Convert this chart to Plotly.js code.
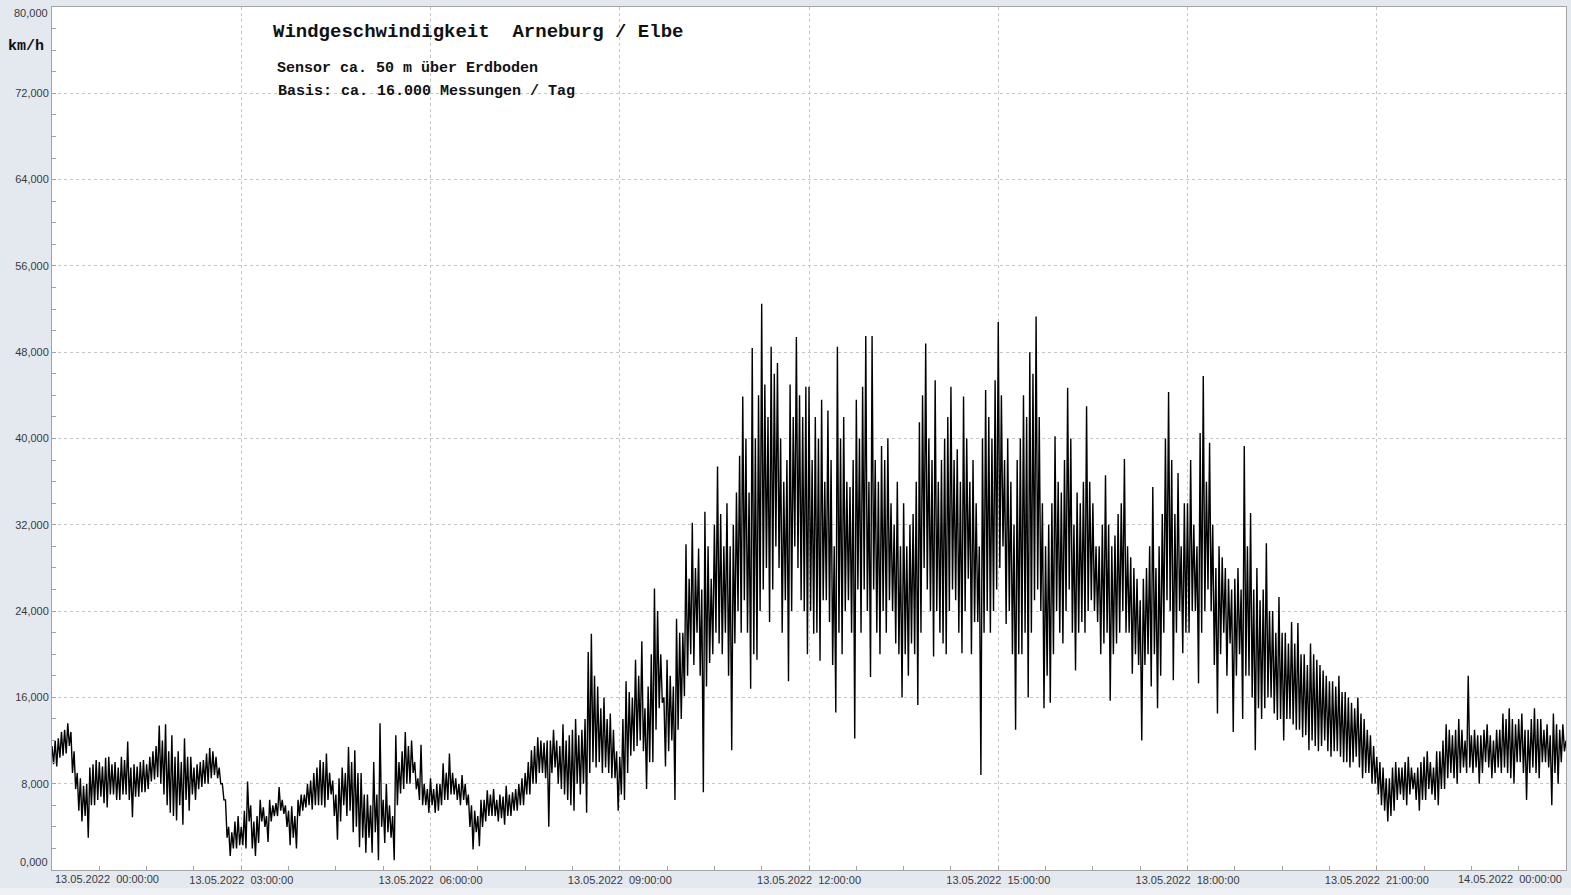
<!DOCTYPE html>
<html>
<head>
<meta charset="utf-8">
<script src="https://cdn.plot.ly/plotly-3.0.1.min.js"></script>
<style>
  html, body { margin: 0; padding: 0; background: #e4e8ef; }
  #chart { width: 1571px; height: 895px; }
</style>
</head>
<body>
<div id="chart"></div>
<script>
// Wind speed (km/h):
// for every 3-minute slot, the top (hi) and bottom (lo) of the drawn band.
const slotMinutes = 3;
const hi00 = [11.5, 12.0, 12.2, 12.8, 13.0, 13.6, 12.8, 11.0, 9.0, 8.5, 7.8, 8.0, 9.5, 9.8, 10.2, 10.0, 9.6, 10.4, 10.5, 9.8];
const lo00 = [9.8, 9.6, 10.4, 10.6, 10.8, 11.5, 9.0, 7.5, 5.5, 4.5, 5.0, 3.0, 6.0, 6.0, 6.5, 6.8, 6.2, 5.8, 7.0, 7.0];
const hi01 = [10.0, 9.5, 10.5, 10.2, 11.9, 9.5, 9.8, 9.6, 10.0, 10.2, 9.8, 10.5, 11.0, 11.5, 13.4, 12.0, 13.5, 11.0, 12.5, 10.5];
const lo01 = [6.5, 6.5, 7.0, 7.0, 6.5, 4.9, 6.8, 6.8, 7.2, 7.2, 7.5, 8.2, 8.4, 8.6, 8.0, 7.0, 6.0, 5.3, 5.0, 4.6];
const hi02 = [11.0, 10.0, 12.2, 10.5, 10.5, 9.5, 9.8, 10.0, 10.2, 10.8, 11.3, 11.0, 10.5, 9.5, 8.0, 6.5, 4.0, 3.5, 4.5, 5.0];
const lo02 = [6.0, 4.2, 6.5, 5.5, 7.0, 6.5, 7.5, 7.7, 8.0, 8.0, 8.5, 8.8, 8.5, 8.0, 6.5, 3.0, 1.3, 2.0, 2.0, 2.3];
const hi03 = [4.0, 5.5, 8.2, 6.0, 4.5, 5.0, 6.5, 5.8, 5.0, 6.5, 6.0, 6.2, 7.7, 6.5, 6.0, 5.5, 5.9, 5.0, 6.5, 7.0];
const lo03 = [2.3, 2.0, 4.5, 2.0, 1.3, 2.5, 4.5, 4.0, 2.6, 4.5, 5.0, 5.0, 5.5, 5.2, 4.0, 2.3, 3.0, 2.0, 5.0, 5.5];
const hi04 = [7.0, 8.0, 8.3, 9.0, 9.5, 10.2, 10.0, 10.8, 9.0, 8.3, 7.0, 8.5, 9.5, 9.0, 11.4, 10.0, 11.1, 9.0, 9.0, 7.0];
const lo04 = [5.8, 6.0, 5.6, 6.0, 6.0, 6.0, 5.8, 6.5, 7.0, 5.0, 2.8, 4.5, 6.0, 5.0, 5.5, 3.5, 4.0, 2.1, 3.0, 1.6];
const hi05 = [7.0, 6.0, 10.0, 7.0, 13.6, 6.5, 8.0, 6.0, 5.0, 12.5, 10.0, 11.0, 12.8, 11.5, 12.0, 10.0, 8.5, 11.6, 8.0, 7.5];
const lo05 = [3.0, 1.6, 3.5, 0.9, 4.0, 2.5, 3.5, 3.0, 0.9, 6.0, 7.1, 7.5, 8.0, 8.0, 9.0, 7.5, 6.5, 6.0, 6.0, 5.3];
const hi06 = [8.5, 7.5, 8.0, 8.0, 9.9, 9.0, 10.8, 9.0, 8.5, 8.0, 8.8, 8.0, 7.0, 6.0, 5.5, 5.0, 6.5, 6.5, 7.4, 7.0];
const lo06 = [6.0, 5.3, 5.5, 6.0, 6.5, 6.5, 7.0, 7.0, 6.5, 6.0, 6.5, 6.0, 4.0, 1.9, 3.5, 2.2, 4.0, 4.5, 5.0, 5.0];
const hi07 = [7.5, 6.5, 7.0, 6.8, 7.8, 7.0, 7.2, 7.5, 8.0, 8.5, 9.0, 10.0, 11.1, 11.5, 12.3, 12.0, 11.8, 12.0, 12.0, 13.0];
const lo07 = [5.0, 4.5, 4.8, 4.2, 5.0, 5.0, 5.5, 5.5, 6.0, 6.0, 7.0, 7.0, 8.0, 8.0, 9.0, 9.0, 8.5, 4.0, 9.0, 9.5];
const hi08 = [12.0, 11.5, 13.5, 12.0, 12.5, 13.0, 14.0, 12.5, 13.0, 14.0, 20.2, 21.9, 18.0, 17.0, 15.0, 16.0, 14.0, 14.5, 13.0, 11.0];
const lo08 = [8.0, 7.5, 7.0, 6.5, 6.0, 5.5, 8.0, 7.0, 8.0, 5.3, 9.0, 10.0, 9.5, 10.0, 9.0, 9.5, 9.0, 8.5, 8.5, 5.5];
const hi09 = [10.5, 14.0, 17.5, 16.5, 16.0, 19.5, 18.0, 21.2, 15.0, 17.0, 20.0, 26.1, 24.0, 20.0, 16.0, 19.5, 18.0, 17.0, 23.3, 22.0];
const lo09 = [7.0, 6.5, 9.0, 10.6, 11.0, 11.5, 12.0, 11.0, 7.5, 10.0, 10.0, 13.0, 15.0, 15.5, 9.6, 11.0, 12.0, 6.5, 13.0, 14.0];
const hi10 = [22.0, 30.2, 27.0, 32.2, 28.0, 29.8, 26.0, 33.2, 30.0, 27.0, 32.0, 37.4, 33.0, 30.0, 34.0, 30.0, 32.0, 35.0, 38.4, 43.9];
const lo10 = [16.1, 18.0, 20.0, 19.0, 22.0, 18.0, 7.2, 17.0, 19.2, 20.0, 22.0, 21.0, 20.0, 22.0, 18.0, 11.1, 21.0, 24.0, 22.0, 25.0];
const hi11 = [40.0, 35.0, 48.4, 40.0, 44.0, 52.5, 45.0, 42.0, 48.5, 46.0, 47.0, 40.0, 36.0, 38.0, 45.0, 42.0, 49.4, 44.0, 42.0, 44.8];
const lo11 = [22.0, 16.8, 20.0, 19.5, 24.0, 26.0, 28.0, 23.0, 26.0, 30.0, 28.0, 22.0, 25.0, 17.5, 24.0, 30.0, 28.0, 25.0, 24.0, 20.0];
const hi12 = [44.8, 38.0, 42.0, 40.0, 43.6, 36.0, 42.6, 38.0, 30.0, 48.5, 40.0, 42.0, 36.0, 35.5, 38.0, 43.6, 40.0, 44.8, 49.5, 36.0];
const lo12 = [24.0, 21.9, 22.0, 19.4, 25.0, 25.0, 23.0, 19.0, 14.6, 22.0, 20.0, 24.0, 25.0, 22.0, 12.2, 26.0, 22.0, 26.0, 24.0, 17.9];
const hi13 = [49.5, 38.0, 36.0, 39.3, 38.0, 40.0, 34.0, 32.0, 36.0, 30.0, 34.0, 30.0, 32.0, 33.0, 36.0, 41.5, 44.0, 48.8, 40.0, 38.0];
const lo13 = [26.0, 22.0, 20.0, 24.0, 22.0, 25.0, 24.0, 21.0, 20.0, 16.0, 20.0, 18.0, 21.0, 20.0, 15.3, 22.0, 28.0, 26.0, 24.0, 19.8];
const hi14 = [45.4, 36.0, 38.0, 40.0, 42.0, 44.8, 38.0, 39.0, 36.0, 43.9, 40.0, 36.0, 38.0, 34.0, 30.0, 40.0, 44.5, 42.0, 40.0, 45.4];
const lo14 = [24.0, 22.0, 21.0, 20.0, 24.0, 26.0, 25.0, 22.0, 20.1, 24.0, 27.0, 20.0, 23.0, 23.0, 8.8, 22.0, 24.0, 22.0, 24.0, 26.0];
const hi15 = [50.8, 44.0, 38.0, 40.0, 36.0, 32.0, 38.0, 40.0, 44.0, 42.0, 48.0, 46.0, 51.3, 42.0, 34.0, 30.0, 32.0, 34.0, 40.2, 36.0];
const lo15 = [28.0, 30.0, 22.8, 24.0, 20.0, 13.0, 20.0, 20.0, 22.0, 16.0, 22.0, 25.0, 26.0, 24.0, 15.0, 18.0, 15.5, 20.0, 24.0, 22.0];
const hi16 = [35.0, 38.0, 44.7, 40.0, 32.0, 35.0, 34.0, 36.0, 43.0, 36.0, 34.0, 30.0, 30.0, 32.0, 36.6, 32.0, 30.0, 31.0, 33.0, 34.0];
const lo16 = [21.0, 24.0, 26.0, 22.0, 18.5, 22.0, 23.0, 22.0, 24.0, 25.0, 24.0, 23.0, 20.0, 21.0, 22.0, 15.7, 20.0, 21.0, 22.0, 24.0];
const hi17 = [38.1, 30.0, 29.0, 28.0, 27.0, 25.0, 27.0, 28.0, 30.0, 35.5, 28.0, 30.0, 33.0, 40.0, 44.3, 38.0, 33.0, 36.8, 30.0, 34.0];
const lo17 = [22.0, 22.0, 18.2, 20.0, 19.0, 12.0, 19.0, 20.0, 17.0, 20.0, 15.0, 18.0, 22.0, 25.0, 24.0, 17.6, 22.0, 24.0, 20.1, 22.0];
const hi18 = [34.0, 38.0, 32.0, 30.0, 40.5, 45.8, 36.0, 39.6, 32.0, 28.0, 30.0, 29.0, 28.0, 27.0, 26.0, 27.0, 28.0, 26.0, 39.3, 30.0];
const lo18 = [22.0, 24.0, 24.0, 17.3, 22.0, 24.0, 26.0, 24.0, 19.0, 14.5, 20.0, 22.0, 18.0, 21.0, 12.8, 18.0, 20.0, 14.0, 18.0, 18.0];
const hi19 = [33.1, 26.0, 28.0, 25.0, 26.0, 30.3, 24.0, 24.0, 22.0, 25.3, 22.0, 22.0, 21.0, 23.0, 21.0, 22.9, 20.0, 20.0, 19.0, 21.0];
const lo19 = [16.0, 11.1, 15.0, 14.0, 15.0, 16.0, 16.0, 14.5, 13.9, 14.0, 12.0, 14.0, 14.0, 13.5, 13.0, 13.0, 12.3, 12.5, 11.1, 12.0];
const hi20 = [20.0, 19.5, 19.0, 18.5, 18.0, 17.5, 17.5, 17.0, 18.0, 16.5, 16.5, 16.0, 15.5, 15.0, 16.0, 14.5, 14.0, 13.0, 12.5, 11.5];
const lo20 = [11.5, 11.0, 11.5, 12.0, 11.0, 10.5, 11.0, 11.0, 10.5, 10.0, 10.0, 9.5, 10.0, 10.5, 9.5, 8.5, 9.0, 9.0, 8.0, 8.0];
const hi21 = [10.5, 10.0, 9.5, 8.5, 8.5, 9.5, 10.0, 9.5, 9.5, 10.0, 10.5, 9.5, 9.0, 9.5, 10.0, 10.5, 11.0, 10.0, 9.5, 11.0];
const lo21 = [7.0, 6.0, 5.5, 4.5, 5.0, 5.5, 6.5, 7.0, 6.5, 6.0, 7.0, 7.5, 6.5, 5.5, 6.5, 6.5, 7.5, 7.0, 6.5, 6.0];
const hi22 = [11.0, 12.0, 13.5, 13.0, 12.5, 13.0, 14.0, 13.0, 12.0, 18.0, 12.5, 13.0, 12.5, 12.5, 13.0, 13.5, 12.5, 12.0, 13.0, 13.0];
const lo22 = [7.5, 7.5, 8.5, 9.0, 8.5, 8.0, 9.0, 9.5, 9.0, 9.5, 9.0, 9.5, 8.0, 9.0, 10.0, 9.5, 8.5, 9.0, 9.5, 9.0];
const hi23 = [14.5, 14.0, 15.0, 14.0, 13.5, 14.0, 14.5, 13.0, 13.0, 14.0, 15.0, 14.0, 14.0, 13.0, 13.5, 12.5, 14.5, 13.5, 13.0, 13.5];
const lo23 = [9.5, 9.0, 8.5, 8.0, 10.0, 10.0, 9.0, 6.5, 9.0, 9.5, 9.0, 8.5, 10.0, 10.0, 9.5, 6.0, 9.0, 8.0, 10.0, 11.0];
const lastValue = 12.0;

const xTickHours = [0, 3, 6, 9, 12, 15, 18, 21, 24];
const xTickLabels = ["13.05.2022  00:00:00", "13.05.2022  03:00:00", "13.05.2022  06:00:00",
  "13.05.2022  09:00:00", "13.05.2022  12:00:00", "13.05.2022  15:00:00",
  "13.05.2022  18:00:00", "13.05.2022  21:00:00", "14.05.2022  00:00:00"];
const yTickValues = [0, 8, 16, 24, 32, 40, 48, 56, 64, 72, 80];
const yTickLabels = ["0,000", "8,000", "16,000", "24,000", "32,000", "40,000", "48,000", "56,000", "64,000", "72,000", "80,000"];

const titleText = "Windgeschwindigkeit  Arneburg / Elbe";
const subText1 = "Sensor ca. 50 m über Erdboden";
const subText2 = "Basis: ca. 16.000 Messungen / Tag";
const unitText = "km/h";

// ---- build the series: top and bottom of each slot, half a slot apart ----
const hiHours = [hi00, hi01, hi02, hi03, hi04, hi05, hi06, hi07, hi08, hi09, hi10, hi11,
  hi12, hi13, hi14, hi15, hi16, hi17, hi18, hi19, hi20, hi21, hi22, hi23];
const loHours = [lo00, lo01, lo02, lo03, lo04, lo05, lo06, lo07, lo08, lo09, lo10, lo11,
  lo12, lo13, lo14, lo15, lo16, lo17, lo18, lo19, lo20, lo21, lo22, lo23];
const speed = [];
hiHours.forEach((hArr, k) => {
  hArr.forEach((v, i) => { speed.push(v); speed.push(loHours[k][i]); });
});
speed.push(lastValue);
const hours = speed.map((_, i) => i * (slotMinutes / 2) / 60);

const nb = s => s.replace(/ /g, "\u00a0");
const midX = xTickHours.slice(1, -1);
const midXText = xTickLabels.slice(1, -1).map(nb);
const midY = yTickValues.slice(1, -1);
const midYText = yTickLabels.slice(1, -1);

// pixel helpers for decorative positions (plot area 52..1566 x 7..870)
const L = 52, R = 5, T = 7, B = 25, W = 1571, H = 895;
const pw = W - L - R, ph = H - T - B;
const px = x => (x - L) / pw;
const py = y => (H - B - y) / ph;

const tickFont = { family: "Liberation Sans, Arial, sans-serif", size: 11, color: "#3a3a3a" };
const monoBold = (size) => ({ family: "Liberation Mono, Courier New, monospace", size: size, color: "#111" });

const trace = {
  type: "scatter", mode: "lines",
  x: hours, y: speed,
  line: { color: "#000", width: 1.4 },
  hoverinfo: "skip"
};

const axisCommon = {
  showline: true, linecolor: "#a3a3a3", linewidth: 1, mirror: true,
  showgrid: true, gridcolor: "#c6c6c6", gridwidth: 1, griddash: "3px,3px",
  zeroline: false, ticks: "inside", ticklen: 4, tickcolor: "#a3a3a3",
  tickfont: tickFont, fixedrange: true
};

const layout = {
  width: W, height: H,
  margin: { l: L, r: R, t: T, b: B, pad: 0 },
  paper_bgcolor: "#e4e8ef",
  plot_bgcolor: "#ffffff",
  showlegend: false,
  xaxis: Object.assign({}, axisCommon, {
    range: [0, 24],
    tickmode: "array", tickvals: midX, ticktext: midXText,
    minor: { tickmode: "linear", tick0: 0, dtick: 0.75, ticks: "inside", ticklen: 4, tickcolor: "#a3a3a3", showgrid: false }
  }),
  yaxis: Object.assign({}, axisCommon, {
    range: [0, 80],
    tickmode: "array", tickvals: midY, ticktext: midYText,
    minor: { tickmode: "linear", tick0: 0, dtick: 2, ticks: "inside", ticklen: 4, tickcolor: "#a3a3a3", showgrid: false }
  }),
  shapes: [
    { type: "rect", xref: "paper", yref: "paper", x0: px(262), x1: px(692), y0: py(100), y1: py(22),
      fillcolor: "#ffffff", line: { width: 0 }, layer: "between" },
    { type: "rect", xref: "paper", yref: "paper", x0: px(0), x1: px(1571), y0: py(895), y1: py(888),
      fillcolor: "#eff1f4", line: { width: 0 }, layer: "below" }
  ],
  annotations: [
    { xref: "paper", yref: "paper", x: px(271), y: py(32), xanchor: "left", yanchor: "middle",
      text: "<b>" + nb(titleText) + "</b>", showarrow: false, font: monoBold(19) },
    { xref: "paper", yref: "paper", x: px(275), y: py(69), xanchor: "left", yanchor: "middle",
      text: "<b>" + nb(subText1) + "</b>", showarrow: false, font: monoBold(15) },
    { xref: "paper", yref: "paper", x: px(276), y: py(91), xanchor: "left", yanchor: "middle",
      text: "<b>" + nb(subText2) + "</b>", showarrow: false, font: monoBold(15) },
    { xref: "paper", yref: "paper", x: px(26), y: py(47), xanchor: "center", yanchor: "middle",
      text: "<b>" + unitText + "</b>", showarrow: false, font: monoBold(15) },
    // edge tick labels, kept inside the frame as in the reference
    { xref: "paper", yref: "paper", x: px(50), y: py(862), xanchor: "right", yanchor: "middle",
      text: yTickLabels[0], showarrow: false, font: tickFont },
    { xref: "paper", yref: "paper", x: px(50), y: py(13), xanchor: "right", yanchor: "middle",
      text: yTickLabels[yTickLabels.length - 1], showarrow: false, font: tickFont },
    { xref: "paper", yref: "paper", x: px(53), y: py(879), xanchor: "left", yanchor: "middle",
      text: nb(xTickLabels[0]), showarrow: false, font: tickFont },
    { xref: "paper", yref: "paper", x: px(1564), y: py(879), xanchor: "right", yanchor: "middle",
      text: nb(xTickLabels[xTickLabels.length - 1]), showarrow: false, font: tickFont }
  ]
};

Plotly.newPlot("chart", [trace], layout, { displayModeBar: false, staticPlot: true });
</script>
</body>
</html>
